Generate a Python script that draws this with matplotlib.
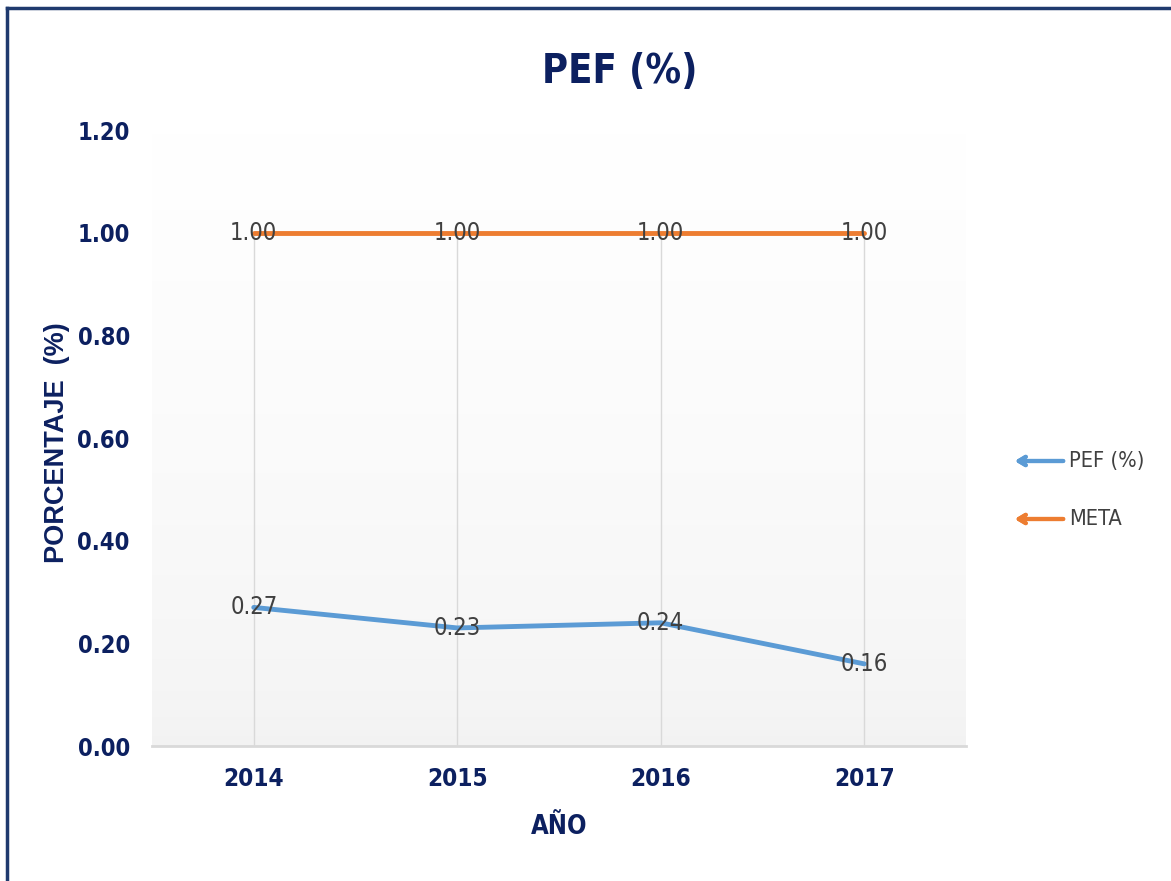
import numpy as np
import matplotlib
matplotlib.use('Agg')
import matplotlib.pyplot as plt
from matplotlib.lines import Line2D
from matplotlib.colors import LinearSegmentedColormap
from matplotlib import font_manager

years = ['2014', '2015', '2016', '2017']
pef = [0.27, 0.23, 0.24, 0.16]
meta = [1.00, 1.00, 1.00, 1.00]
yticks = [0.0, 0.2, 0.4, 0.6, 0.8, 1.0, 1.2]

navy = '#0c2060'
blue = '#5b9bd5'
orange = '#ed7d31'
lab = '#404040'

# pick a condensed face if one is installed, else plain Liberation Sans
names = {f.name for f in font_manager.fontManager.ttflist}
if 'Liberation Sans Narrow' in names:
    narrow, stretch, k = ['Liberation Sans Narrow', 'DejaVu Sans'], 'normal', 1.0
elif any(f.name == 'DejaVu Sans' and f.stretch == 'condensed' for f in font_manager.fontManager.ttflist):
    narrow, stretch, k = ['DejaVu Sans', 'DejaVu Sans'], 'condensed', 0.92
else:
    narrow, stretch, k = ['Liberation Sans', 'DejaVu Sans'], 'normal', 0.85

fig = plt.figure(figsize=(11.71, 8.81), dpi=100)
ax = fig.add_axes([152/1171, 1-746/881, (966-152)/1171, (746-130)/881])

x = np.arange(len(years)) + 0.5
ax.set_xlim(0, len(years))
ax.set_ylim(0, 1.2)

# gradient background of the plot area
cmap = LinearSegmentedColormap.from_list('bg', ['#f2f2f2', '#ffffff'])
grad = np.linspace(0, 1, 256).reshape(-1, 1) ** 0.6
ax.imshow(grad, extent=[0, len(years), 0, 1.2], origin='lower', cmap=cmap,
          aspect='auto', zorder=0, vmin=0, vmax=1)

# vertical gridlines
ax.vlines(x, 0, 1.0, color='#d9d9d9', lw=1, zorder=1)

ax.plot(x, pef, color=blue, lw=3.5, zorder=3, solid_capstyle='round')
ax.plot(x, meta, color=orange, lw=3.5, zorder=3, solid_capstyle='round')

for xi, v in zip(x, pef):
    ax.text(xi, v, f'{v:.2f}', ha='center', va='center', fontsize=18.5*k,
            color=lab, family=narrow, stretch=stretch, zorder=4)
for xi, v in zip(x, meta):
    ax.text(xi, v, f'{v:.2f}', ha='center', va='center', fontsize=18.5*k,
            color=lab, family=narrow, stretch=stretch, zorder=4)

ax.set_xticks(x)
ax.set_xticklabels(years, fontsize=19*k, fontweight='bold', color=navy,
                   family=narrow, stretch=stretch)
ax.set_yticks(yticks)
ax.set_yticklabels([f'{t:.2f}' for t in yticks], fontsize=18.5*k, fontweight='bold',
                   color=navy, family=narrow, stretch=stretch)
ax.tick_params(axis='both', length=0)
ax.tick_params(axis='x', pad=15)
ax.tick_params(axis='y', pad=16)

for s in ['left', 'right', 'top']:
    ax.spines[s].set_visible(False)
ax.spines['bottom'].set_color('#d9d9d9')
ax.spines['bottom'].set_linewidth(2)

fig.text(620/1171, 1-72/881, 'PEF (%)', ha='center', va='center', fontsize=31*k,
         fontweight='bold', color=navy, family=narrow, stretch=stretch)
fig.text(57/1171, 1-443/881, 'PORCENTAJE  (%)', rotation=90, ha='center', va='center',
         fontsize=19.5, fontweight='bold', color=navy, family=['Liberation Sans', 'DejaVu Sans'])
fig.text(559/1171, 1-827/881, 'AÑO', ha='center', va='center', fontsize=20*k,
         fontweight='bold', color=navy, family=narrow, stretch=stretch)

# legend
for name, col, yy in [('PEF (%)', blue, 461), ('META', orange, 519)]:
    fig.add_artist(plt.annotate('', xy=(1012, 881-yy), xytext=(1066, 881-yy),
                                xycoords='figure pixels', textcoords='figure pixels',
                                arrowprops=dict(arrowstyle='->,head_length=0.5,head_width=0.3',
                                                color=col, lw=3)))
    fig.text(1069/1171, 1-yy/881, name, ha='left', va='center', fontsize=17*k,
             color=lab, family=narrow, stretch=stretch)

# frame
fig.add_artist(Line2D([7/1171, 1], [1-8/881, 1-8/881], color='#1f3a6e', lw=2.5))
fig.add_artist(Line2D([7/1171, 7/1171], [0, 1-8/881], color='#1f3a6e', lw=2.5))

fig.savefig('out.png', dpi=100)
